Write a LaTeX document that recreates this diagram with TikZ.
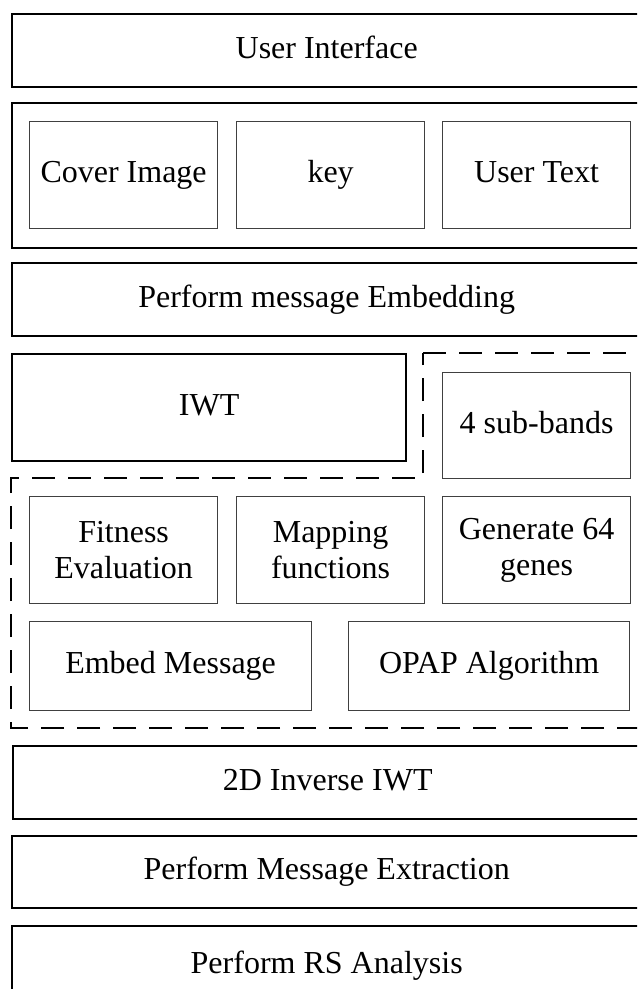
\documentclass[tikz,border=0pt]{standalone}
\usepackage{fontspec}
\setmainfont{Liberation Serif}

\begin{document}
\begin{tikzpicture}[x=0.5pt,y=-0.5pt,
	layer/.style={rectangle, draw=black, line width=1.2pt, inner sep=0, anchor=north west, minimum width=314.5pt, minimum height=36.5pt, text height=11pt, text depth=3.5pt, font=\fontsize{16}{18}\selectfont},
	box/.style={rectangle, draw=black!75, line width=0.6pt, inner sep=0, anchor=north west, minimum width=94pt, minimum height=53.5pt, align=center, font=\fontsize{16}{18}\selectfont},
	item/.style={box, text height=11pt, text depth=3.5pt},
	region/.style={line width=1.3pt, dash pattern=on 11.5pt off 6.5pt}]

		\useasboundingbox (0,0) rectangle (637,989);
		\clip (0,0) rectangle (637,989);

		%user interface
		\node[layer] at (11,13) (ui) {User Interface};
		\node[layer,minimum height=72.5pt] at (11,102) (inp) {};
		\foreach \x/\nm/\txt in {29/cover/Cover Image,236/key/key,442/utext/User Text} {
			\node[item] at (\x,121) (\nm) {\txt};
		}

		%embedding
		\node[layer] at (11,262) (emb) {Perform message Embedding};
		\node[layer,minimum width=197pt,minimum height=53.5pt] at (11,353) (iwt) {IWT};
		\node[item,minimum height=53pt] at (442,372) (bands) {4 sub-bands};
		\node[box] at (29,496) (fit) {Fitness\\Evaluation};
		\node[box] at (236,496) (map) {Mapping\\functions};
		\node[box] at (442,496) (genes) {Generate 64\\genes};
		\node[item,minimum width=141pt,minimum height=44.5pt] at (29,621) (embmsg) {Embed Message};
		\node[item,minimum width=140.5pt,minimum height=44.5pt] at (348,621) (opap) {OPAP Algorithm};
		\draw[region] (423,353) -- (650,353) -- (650,728) -- (11,728) -- (11,478) -- (423,478) -- cycle;

		%extraction
		\node[layer] at (12,745) (inv) {2D Inverse IWT};
		\node[layer,minimum height=36pt] at (11,835) (extr) {Perform Message Extraction};
		\node[layer,minimum height=40pt] at (11,925) (rs) {Perform RS Analysis};
	\end{tikzpicture}
\end{document}
